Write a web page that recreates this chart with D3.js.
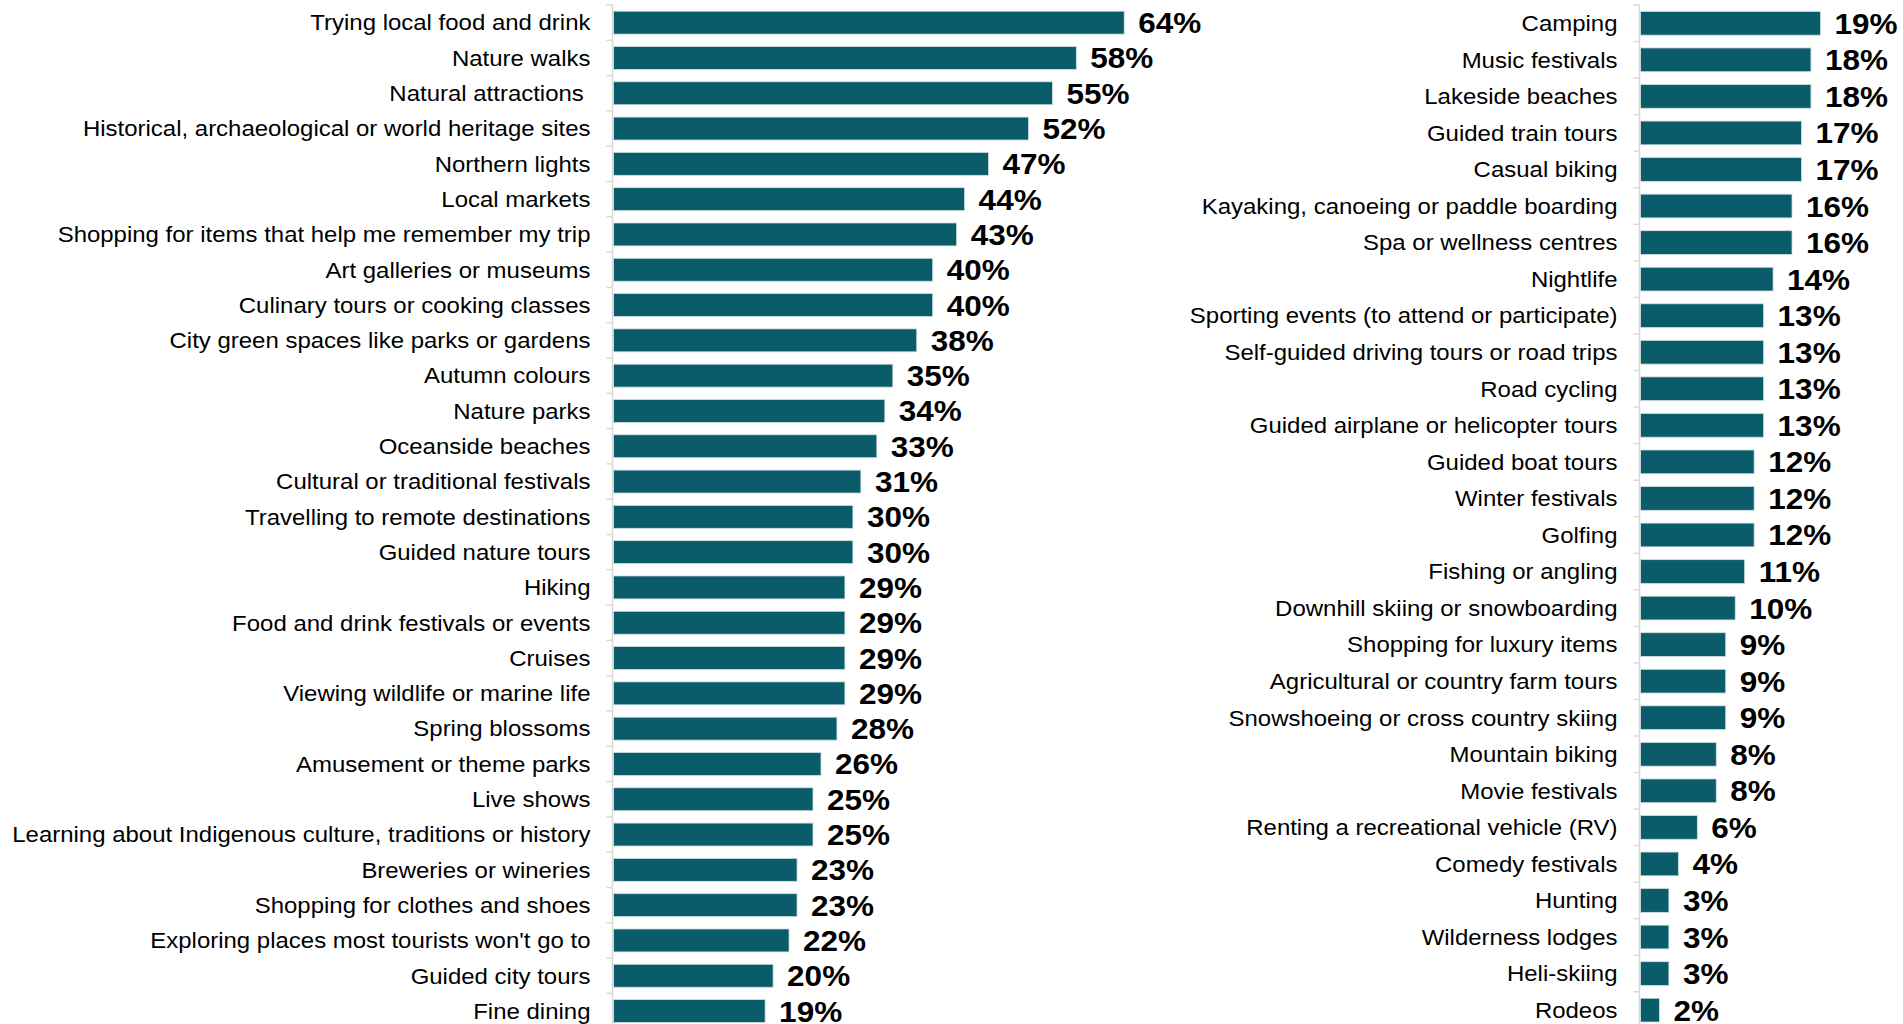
<!DOCTYPE html>
<html>
<head>
<meta charset="utf-8">
<script src="https://cdn.jsdelivr.net/npm/d3@7"></script>
<style>
  html, body { margin: 0; padding: 0; background: #ffffff; }
  svg { display: block; }
  text { font-family: "Liberation Sans", Arial, Helvetica, sans-serif; fill: #000; white-space: pre; }
</style>
</head>
<body>
<svg id="chart" width="1903" height="1024"></svg>
<script>
// Activities, most popular first (left column)
const leftCategories = [
  "Trying local food and drink",
  "Nature walks",
  "Natural attractions ",
  "Historical, archaeological or world heritage sites",
  "Northern lights",
  "Local markets",
  "Shopping for items that help me remember my trip",
  "Art galleries or museums",
  "Culinary tours or cooking classes",
  "City green spaces like parks or gardens",
  "Autumn colours",
  "Nature parks",
  "Oceanside beaches",
  "Cultural or traditional festivals",
  "Travelling to remote destinations",
  "Guided nature tours",
  "Hiking",
  "Food and drink festivals or events",
  "Cruises",
  "Viewing wildlife or marine life",
  "Spring blossoms",
  "Amusement or theme parks",
  "Live shows",
  "Learning about Indigenous culture, traditions or history",
  "Breweries or wineries",
  "Shopping for clothes and shoes",
  "Exploring places most tourists won't go to",
  "Guided city tours",
  "Fine dining"
];
const leftValues = [64, 58, 55, 52, 47, 44, 43, 40, 40, 38, 35, 34, 33, 31, 30, 30,
                    29, 29, 29, 29, 28, 26, 25, 25, 23, 23, 22, 20, 19];

// Remaining activities (right column)
const rightCategories = [
  "Camping",
  "Music festivals",
  "Lakeside beaches",
  "Guided train tours",
  "Casual biking",
  "Kayaking, canoeing or paddle boarding",
  "Spa or wellness centres",
  "Nightlife",
  "Sporting events (to attend or participate)",
  "Self-guided driving tours or road trips",
  "Road cycling",
  "Guided airplane or helicopter tours",
  "Guided boat tours",
  "Winter festivals",
  "Golfing",
  "Fishing or angling",
  "Downhill skiing or snowboarding",
  "Shopping for luxury items",
  "Agricultural or country farm tours",
  "Snowshoeing or cross country skiing",
  "Mountain biking",
  "Movie festivals",
  "Renting a recreational vehicle (RV)",
  "Comedy festivals",
  "Hunting",
  "Wilderness lodges",
  "Heli-skiing",
  "Rodeos"
];
const rightValues = [19, 18, 18, 17, 17, 16, 16, 14, 13, 13, 13, 13, 12, 12, 12, 11,
                     10, 9, 9, 9, 8, 8, 6, 4, 3, 3, 3, 2];

const svg = d3.select("#chart");
const BAR = "#0b5c6a";
const AXIS = "#d9d9d9";
const LABEL_SIZE = 22;
const LABEL_SX = 1.09;     // horizontal stretch of category labels
const VALUE_SIZE = 30;
const VALUE_SX = 1.05;     // horizontal stretch of value labels

function panel(cfg) {
  const data = cfg.categories.map((c, i) => ({ cat: c, val: cfg.values[i] }));
  const x = d3.scaleLinear().domain([0, 100]).range([cfg.x0, cfg.x0 + cfg.pxPer100]);
  const y = d3.scaleBand()
    .domain(cfg.categories)
    .range([cfg.y0, cfg.y0 + cfg.step * cfg.categories.length])
    .paddingInner(0.35)
    .paddingOuter(0.175);

  const g = svg.append("g");

  // bars
  g.selectAll("rect.bar").data(data).join("rect")
    .attr("class", "bar")
    .attr("x", x(0) + 1)
    .attr("y", d => y(d.cat))
    .attr("width", d => x(d.val) - x(0))
    .attr("height", y.bandwidth())
    .attr("fill", BAR)
    .attr("stroke", "#cfe0e3")
    .attr("stroke-width", 0.8);

  // category axis: vertical line with ticks between categories
  const st = y.step();
  const bounds = d3.range(cfg.categories.length + 1).map(i => cfg.y0 + i * st);
  g.append("line")
    .attr("x1", x(0)).attr("x2", x(0))
    .attr("y1", cfg.y0).attr("y2", 1024)
    .attr("stroke", AXIS).attr("stroke-width", 1.5);
  g.selectAll("line.tick").data(bounds).join("line")
    .attr("class", "tick")
    .attr("x1", x(0) - 6).attr("x2", x(0))
    .attr("y1", d => d).attr("y2", d => d)
    .attr("stroke", AXIS).attr("stroke-width", 1.5);

  // category labels
  g.selectAll("g.lab").data(data).join("g")
    .attr("class", "lab")
    .attr("transform", d => `translate(${x(0) - 22},${y(d.cat) + y.bandwidth() / 2 + 7.8}) scale(${LABEL_SX},1)`)
    .append("text")
    .attr("text-anchor", "end")
    .attr("font-size", LABEL_SIZE)
    .text(d => d.cat);

  // value labels
  g.selectAll("g.val").data(data).join("g")
    .attr("class", "val")
    .attr("transform", d => `translate(${x(d.val) + 15},${y(d.cat) + y.bandwidth() / 2 + 10.5}) scale(${VALUE_SX},1)`)
    .append("text")
    .attr("font-size", VALUE_SIZE)
    .attr("font-weight", "bold")
    .text(d => d.val + "%");
}

panel({ categories: leftCategories, values: leftValues, x0: 612.5, pxPer100: 798, y0: 5, step: 35.3 });
panel({ categories: rightCategories, values: rightValues, x0: 1639.5, pxPer100: 947, y0: 5, step: 36.55 });
</script>
</body>
</html>
